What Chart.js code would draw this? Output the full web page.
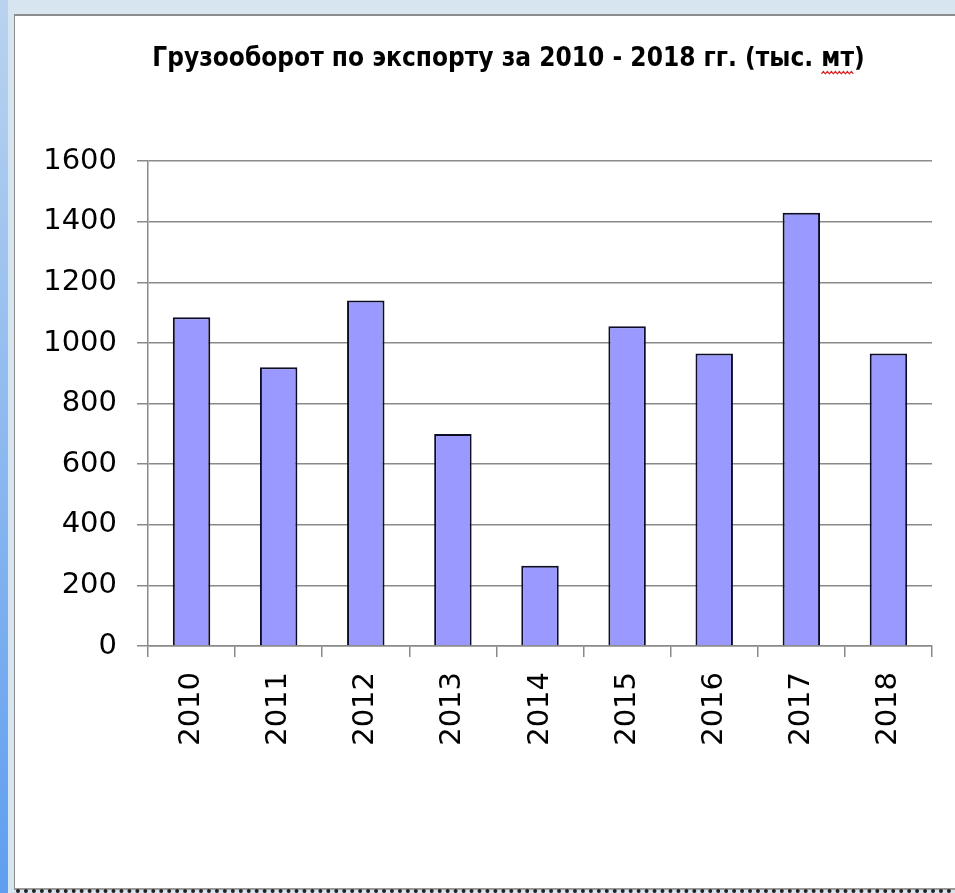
<!DOCTYPE html>
<html lang="ru">
<head>
<meta charset="utf-8">
<title>Грузооборот по экспорту</title>
<script src="https://cdn.jsdelivr.net/npm/chart.js@4.4.1/dist/chart.umd.min.js"></script>
<style>
    html, body {
        margin: 0;
        padding: 0;
        width: 955px;
        height: 893px;
        overflow: hidden;
        background: #d7e5f1;
    }
    #edge {
        position: absolute;
        left: 0;
        top: 0;
        width: 8px;
        height: 893px;
        background: linear-gradient(to bottom, #b9d3ef, #5f9ef0);
    }
    #frame {
        position: absolute;
        left: 14px;
        top: 14px;
        width: 960px;
        height: 872px;
        background: #ffffff;
        border-left: 1px solid #8c8c8c;
        border-top: 2px solid #8c8c8c;
        border-bottom: 2px solid #9a9a9a;
    }
    #dots {
        position: absolute;
        left: 16px;
        top: 889px;
        width: 960px;
        height: 0;
        border-top: 4px dotted #222;
    }
    #chart {
        position: absolute;
        left: 0;
        top: 0;
    }
</style>
</head>
<body>
<div id="edge"></div>
<div id="frame"></div>
<div id="dots"></div>
<canvas id="chart" width="955" height="893"></canvas>
<script>
// Chart data
const years = ['2010', '2011', '2012', '2013', '2014', '2015', '2016', '2017', '2018'];
const exportVolume = [1085, 920, 1140, 700, 265, 1055, 965, 1430, 965];
const yTicks = [0, 200, 400, 600, 800, 1000, 1200, 1400, 1600];

const titleStart = 'Грузооборот по экспорту за 2010 - 2018 гг. (тыс. ';
const titleUnit = 'мт';
const chartTitle = titleStart + titleUnit + ')';

const colors = {
    bar: '#9999ff',
    barBorder: '#0d0d26',
    grid: '#8a8a8a',
    text: '#000000',
    squiggle: '#e02020'
};

const axisFont = { family: 'DejaVu Sans', size: 29 };
const titleFont = { family: "'DejaVu Sans Condensed', 'DejaVu Sans', sans-serif", size: 26, weight: 'bold' };
const titlePadTop = 44;

// title in the original sits a bit right of the canvas centre
const titleShift = {
    id: 'titleShift',
    afterLayout(chart) {
        if (chart.titleBlock) {
            chart.titleBlock.left = 85;
        }
    }
};

// red spell-check wave under the unit, like in the original screenshot
const squigglePlugin = {
    id: 'squiggle',
    afterDraw(chart) {
        const box = chart.titleBlock;
        if (!box) return;
        const ctx = chart.ctx;
        ctx.save();
        ctx.font = 'bold ' + titleFont.size + 'px ' + titleFont.family;
        const full = ctx.measureText(chartTitle).width;
        const pre = ctx.measureText(titleStart).width;
        const unit = ctx.measureText(titleUnit).width;
        const x0 = (box.left + box.right) / 2 - full / 2 + pre;
        const y = box.top + titlePadTop + titleFont.size * 1.2 / 2 + titleFont.size * 0.55;
        ctx.strokeStyle = colors.squiggle;
        ctx.lineWidth = 1.2;
        ctx.beginPath();
        let up = true;
        ctx.moveTo(x0, y);
        for (let x = x0 + 2; x <= x0 + unit; x += 2) {
            ctx.lineTo(x, up ? y - 2.5 : y);
            up = !up;
        }
        ctx.stroke();
        ctx.restore();
    }
};

new Chart(document.getElementById('chart'), {
    type: 'bar',
    data: {
        labels: years,
        datasets: [{
            data: exportVolume,
            backgroundColor: colors.bar,
            borderColor: colors.barBorder,
            borderWidth: 2,
            categoryPercentage: 1,
            barPercentage: 0.43
        }]
    },
    options: {
        responsive: false,
        animation: false,
        layout: {
            padding: { left: 0, right: 23, top: 0, bottom: 0 }
        },
        plugins: {
            legend: { display: false },
            tooltip: { enabled: false },
            title: {
                display: true,
                text: chartTitle,
                color: colors.text,
                font: titleFont,
                padding: { top: titlePadTop, bottom: 86 }
            }
        },
        scales: {
            x: {
                afterFit: function(scale) { scale.height = 247; },
                grid: {
                    display: true,
                    offset: true,
                    drawOnChartArea: false,
                    drawTicks: true,
                    tickLength: 11,
                    color: colors.grid,
                    lineWidth: 1.5
                },
                border: { display: true, color: colors.grid, width: 1.5 },
                ticks: {
                    color: colors.text,
                    font: axisFont,
                    minRotation: 90,
                    maxRotation: 90,
                    padding: 15
                }
            },
            y: {
                min: 0,
                max: 1600,
                afterFit: function(scale) { scale.width = 148; },
                afterBuildTicks: function(scale) {
                    scale.ticks = yTicks.map(v => ({ value: v }));
                },
                grid: {
                    color: colors.grid,
                    lineWidth: 1.5,
                    tickLength: 11
                },
                border: { display: true, color: colors.grid, width: 1.5 },
                ticks: {
                    color: colors.text,
                    font: axisFont,
                    padding: 20,
                    callback: function(value) { return String(value); }
                }
            }
        }
    },
    plugins: [titleShift, squigglePlugin]
});
</script>
</body>
</html>
